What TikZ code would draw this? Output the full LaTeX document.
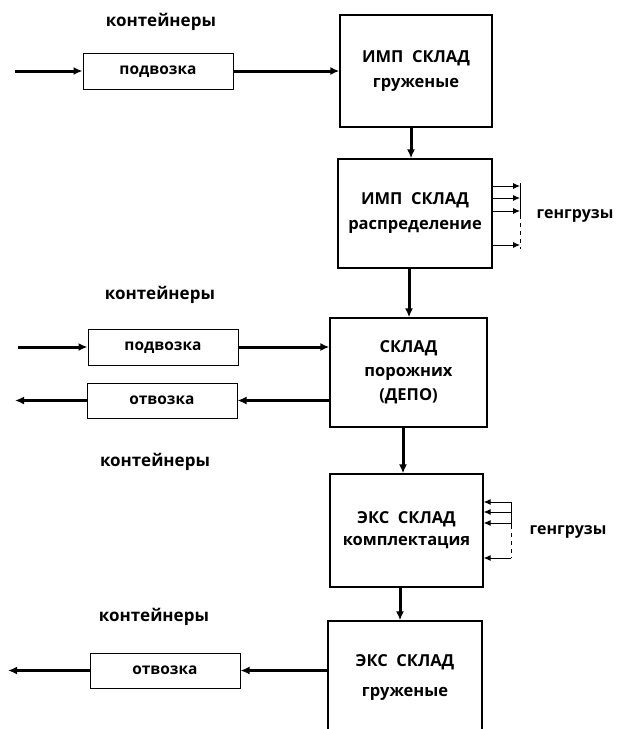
\documentclass[tikz,border=0pt]{standalone}
\usepackage{fontspec}
\setmainfont{Open Sans}
\usetikzlibrary{arrows.meta}
\newcommand{\boxfont}[1]{\bfseries\fontsize{16.5}{#1}\selectfont}
\begin{document}
\begin{tikzpicture}[x=1pt,y=-1pt,
  every node/.style={font=\bfseries\fontsize{17}{23}\selectfont},
  store/.style={draw, line width=1.3pt, align=center, inner sep=0pt},
  trip/.style={draw, line width=1pt, minimum width=150pt, minimum height=36pt, inner sep=0pt,
    text height=10pt, text depth=3pt, font=\bfseries\fontsize{15.5}{18}\selectfont},
  flow/.style={line width=3pt, -{Latex[length=9pt,width=8pt]}},
  feed/.style={line width=0.9pt, -{Latex[length=7pt,width=6pt]}},
  note/.style={inner sep=0pt},
  extra/.style={inner sep=0pt, font=\bfseries\fontsize{16}{20}\selectfont}]
\useasboundingbox (0,0) rectangle (625,729);

% x positions of the vertical flow arrows
\coordinate (a1) at (411,0);
\coordinate (a2) at (409,0);
\coordinate (a3) at (403,0);
\coordinate (a4) at (400,0);

% import side: loaded containers arrive
\node[note] (k1) at (161,22) {контейнеры};
\node[trip] (pod1) at (158,71) {подвозка};
\node[store, minimum width=152pt, minimum height=112pt, font=\boxfont{25}] (box1) at (416,71) {ИМП\ \ СКЛАД\\груженые};
\coordinate (in1) at (15,71);
\draw[flow] (in1) -- (pod1.west);
\draw[flow] (pod1.east) -- (box1.west);

% import distribution
\node[store, minimum width=154pt, minimum height=109pt, font=\boxfont{25}] (box2) at (415,213.5) {ИМП\ \ СКЛАД\\распределение};
\draw[flow] (box1.south -| a1) -- (box2.north -| a1);
\coordinate (o1) at (520,186);
\coordinate (o2) at (520,198);
\coordinate (o3) at (520,211);
\coordinate (o4) at (520,245);
\draw[feed] (o1 -| box2.east) -- (o1);
\draw[feed] (o2 -| box2.east) -- (o2);
\draw[feed] (o3 -| box2.east) -- (o3);
\draw[feed] (o4 -| box2.east) -- (o4);
\coordinate (v1a) at (520,183);
\coordinate (v1b) at (520,215);
\coordinate (v1c) at (520,249);
\draw[line width=0.9pt] (v1a) -- (v1b);
\draw[line width=0.9pt, dash pattern=on 4pt off 4pt] (v1b) -- (v1c);
\node[extra] (g1) at (575,216) {генгрузы};

% empty container depot
\node[note] (k2) at (160,295) {контейнеры};
\node[store, minimum width=157pt, minimum height=109pt, font=\boxfont{24}] (box3) at (408.5,372.5) {СКЛАД\\порожних\\(ДЕПО)};
\draw[flow] (box2.south -| a2) -- (box3.north -| a2);
\node[trip] (pod2) at (163,347) {подвозка};
\node[trip, minimum height=35pt] (otv2) at (162,400.5) {отвозка};
\coordinate (in2) at (18,347);
\coordinate (out2) at (15,400.5);
\draw[flow] (in2) -- (pod2.west);
\draw[flow] (pod2.east) -- (pod2.east -| box3.west);
\draw[flow] (otv2.east -| box3.west) -- (otv2.east);
\draw[flow] (otv2.west) -- (out2);
\node[note] (k3) at (155,462) {контейнеры};

% export consolidation
\node[store, minimum width=153pt, minimum height=113pt, font=\boxfont{22}] (box4) at (406.5,530.5) {ЭКС\ \ СКЛАД\\комплектация};
\draw[flow] (box3.south -| a3) -- (box4.north -| a3);
\coordinate (i1) at (511,502);
\coordinate (i2) at (511,512);
\coordinate (i3) at (511,523);
\coordinate (i4) at (511,558);
\draw[feed] (i1) -- (i1 -| box4.east);
\draw[feed] (i2) -- (i2 -| box4.east);
\draw[feed] (i3) -- (i3 -| box4.east);
\draw[feed] (i4) -- (i4 -| box4.east);
\coordinate (v2a) at (511,502);
\coordinate (v2b) at (511,525);
\coordinate (v2c) at (511,558);
\draw[line width=0.9pt] (v2a) -- (v2b);
\draw[line width=0.9pt, dash pattern=on 4pt off 4pt] (v2b) -- (v2c);
\node[extra] (g2) at (568,532) {генгрузы};

% loaded export containers leave
\node[note] (k4) at (154,617) {контейнеры};
\node[store, minimum width=154pt, minimum height=112pt, font=\boxfont{30}] (box5) at (405,677) {ЭКС\ \ СКЛАД\\груженые};
\draw[flow] (box4.south -| a4) -- (box5.north -| a4);
\node[trip, minimum height=35pt] (otv5) at (165,670.5) {отвозка};
\coordinate (out5) at (8,670.5);
\draw[flow] (otv5.east -| box5.west) -- (otv5.east);
\draw[flow] (otv5.west) -- (out5);
\end{tikzpicture}
\end{document}
